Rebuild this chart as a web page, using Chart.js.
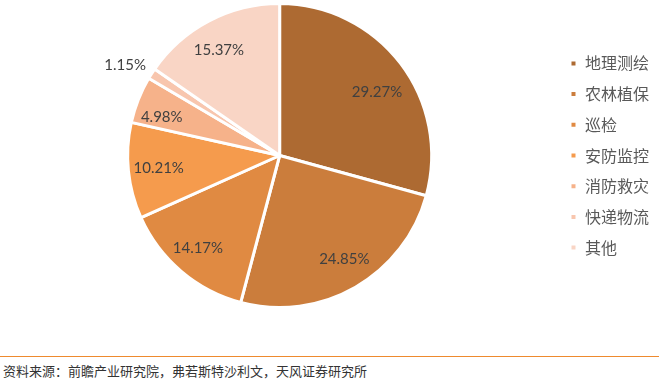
<!DOCTYPE html>
<html>
<head>
<meta charset="utf-8">
<script src="https://cdn.jsdelivr.net/npm/chart.js@4"></script>
<style>
  html, body { margin: 0; padding: 0; background: #fff; }
  #wrap { position: relative; width: 659px; height: 310px; }
  #rule { position: absolute; left: 0; top: 356px; width: 659px; height: 0; border-top: 1.5px solid #EE8A2E; }
  #src { position: absolute; left: 3px; top: 363px; font-family: "Noto Sans CJK SC", sans-serif; font-size: 13px; color: #333; line-height: 16px; white-space: nowrap; }
</style>
</head>
<body>
<div id="wrap"><canvas id="c"></canvas></div>
<div id="rule"></div>
<div id="src">资料来源：前瞻产业研究院，弗若斯特沙利文，天风证券研究所</div>
<script>
const categories = ["地理测绘", "农林植保", "巡检", "安防监控", "消防救灾", "快递物流", "其他"];
const shares = [29.27, 24.85, 14.17, 10.21, 4.98, 1.15, 15.37];
const sliceColors = ["#AD6A32", "#CB7D3C", "#E08A42", "#F59B4D", "#F6B28A", "#F8C6AE", "#F9D5C5"];
// label placement (style only): angle nudge in degrees, distance as fraction of radius
const labelAngleNudge = [4.3, -2.0, 1.2, 0, -3.7, -2.2, -2.3];
const labelRadiusFrac = [0.764, 0.805, 0.811, 0.80, 0.815, 1.179, 0.80];

const labelPlugin = {
  id: 'sliceLabels',
  afterDatasetsDraw(chart) {
    const ctx = chart.ctx;
    const meta = chart.getDatasetMeta(0);
    ctx.save();
    ctx.font = '15px Lato, "Open Sans", sans-serif';
    ctx.fillStyle = '#404040';
    ctx.textAlign = 'center';
    ctx.textBaseline = 'middle';
    meta.data.forEach((arc, i) => {
      const p = arc.getProps(['x', 'y', 'startAngle', 'endAngle', 'outerRadius'], true);
      const mid = (p.startAngle + p.endAngle) / 2 + labelAngleNudge[i] * Math.PI / 180;
      const r = p.outerRadius * labelRadiusFrac[i];
      const x = p.x + Math.cos(mid) * r;
      const y = p.y + Math.sin(mid) * r;
      ctx.fillText(shares[i].toFixed(2) + '%', x, y);
    });
    ctx.restore();
  }
};

new Chart(document.getElementById('c'), {
  type: 'pie',
  data: {
    labels: categories,
    datasets: [{
      data: shares,
      backgroundColor: sliceColors,
      borderColor: '#ffffff',
      borderWidth: 3,
      hoverOffset: 0
    }]
  },
  options: {
    responsive: true,
    maintainAspectRatio: false,
    animation: false,
    layout: { padding: { top: 2, bottom: 1, left: 4, right: 0 } },
    plugins: {
      tooltip: { enabled: false },
      legend: {
        position: 'right',
        labels: {
          boxWidth: 7,
          boxHeight: 7,
          padding: 14.7,
          color: '#595959',
          font: { family: '"Noto Sans CJK SC", sans-serif', size: 16 }
        }
      }
    }
  },
  plugins: [labelPlugin]
});
</script>
</body>
</html>
